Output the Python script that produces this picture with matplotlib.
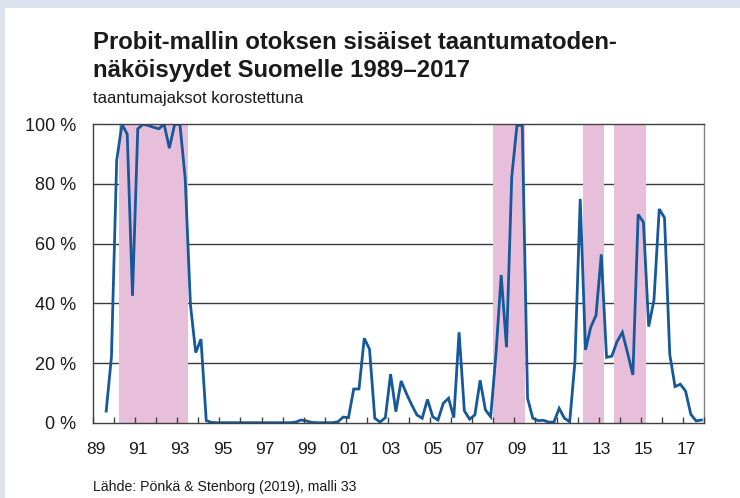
import numpy as np
import pandas as pd
import matplotlib
matplotlib.use("Agg")
import matplotlib.pyplot as plt
from matplotlib.patches import Rectangle
from matplotlib.transforms import ScaledTranslation

# ---- data ----
start_quarter = "1989Q3"
end_quarter = "2017Q4"
probability = [
    3.9, 22, 88, 100, 96.7, 42.5, 98.5, 100, 99.6, 99,
    98.5, 100, 92, 100, 100, 82, 39.5, 23.5, 28, 0.7,
    0.1, 0, 0, 0, 0, 0, 0, 0, 0, 0,
    0, 0, 0, 0, 0, 0, 0.2, 0.9, 0.6, 0.1,
    0, 0, 0, 0, 0.3, 1.9, 1.7, 11.3, 11.3, 28.3,
    24.6, 1.5, 0.2, 1.7, 16.3, 3.7, 14, 9.8, 6, 2.6,
    1.5, 7.8, 2, 0.9, 6.5, 8.2, 1.7, 30.3, 4, 1.2,
    2.6, 14.2, 4.3, 2, 23, 49.5, 25.3, 82.4, 99.8, 99.5,
    8.2, 1.5, 0.7, 0.8, 0.2, 0.2, 4.8, 1.5, 0.3, 20.5,
    75, 24.4, 32, 36, 56.4, 21.9, 22.3, 27.2, 30.3, 23.3,
    16, 69.8, 67.2, 32.2, 41.1, 71.6, 68.7, 22.9, 12.1, 12.9,
    10.6, 2.8, 0.6, 0.9,
]
recession_start = [1990.25, 2008.0, 2012.25, 2013.75]
recession_end = [1993.5, 2009.5, 2013.25, 2015.25]
tick_years = list(range(1989, 2019))
label_years = list(range(1989, 2018, 2))
y_ticks = [0, 20, 40, 60, 80, 100]

title = "Probit-mallin otoksen sisäiset taantumatoden-\nnäköisyydet Suomelle 1989–2017"
subtitle = "taantumajaksot korostettuna"
source = "Lähde: Pönkä & Stenborg (2019), malli 33"

# ---- derived x positions (quarter midpoints) ----
periods = pd.period_range(start_quarter, end_quarter, freq="Q")
xq = np.array([p.year + (p.quarter - 0.5) / 4 for p in periods])

FONT = ["Liberation Sans", "DejaVu Sans"]
plt.rcParams["font.family"] = FONT

W, H = 740, 498
fig = plt.figure(figsize=(W / 100, H / 100), dpi=100, facecolor="white")

band = "#dce3ef"
fig.patches.append(Rectangle((0, 1 - 8 / H), 1, 8 / H, transform=fig.transFigure,
                             facecolor=band, edgecolor="none", zorder=0))
fig.patches.append(Rectangle((0, 0), 5 / W, 1, transform=fig.transFigure,
                             facecolor=band, edgecolor="none", zorder=0))

left, right, top, bottom = 93, 704, 124.3, 422.7
ax = fig.add_axes([left / W, 1 - bottom / H, (right - left) / W, (bottom - top) / H])

for yv in y_ticks[1:-1]:
    ax.axhline(yv, color="#3a3a3a", lw=1.0, zorder=1)

for s, e in zip(recession_start, recession_end):
    ax.axvspan(s, e, facecolor="#e8bfda", edgecolor="none", zorder=1.5)

ax.plot(xq, probability, color="#15599a", lw=2.0, zorder=2, solid_joinstyle="miter")

ax.set_xlim(1989, 2018)
ax.set_ylim(0, 100)
ax.set_axisbelow(False)

ax.set_xticks(tick_years)
ax.set_xticklabels([f"{y % 100:02d}" if y in label_years else "" for y in tick_years])
ax.tick_params(axis="x", direction="in", length=4.5, width=1, color="#404040",
               pad=14, labelsize=12.5, labelcolor="#1a1a1a")
shift = ScaledTranslation(3 / 100, 0, fig.dpi_scale_trans)
for lab in ax.get_xticklabels():
    lab.set_transform(lab.get_transform() + shift)
ax.set_yticks(y_ticks)
ax.set_yticklabels([f"{v} %" for v in y_ticks])
ax.tick_params(axis="y", length=0, pad=12, labelsize=13, labelcolor="#1a1a1a")

for sp in ax.spines.values():
    sp.set_color("#404040")
    sp.set_linewidth(1.0)
ax.spines["right"].set_color("#808080")

fig.text(93 / W, 1 - 31 / H, title, ha="left", va="top", fontsize=17.2,
         fontweight="bold", color="#1a1a1a", linespacing=1.25)
fig.text(93 / W, 1 - 91 / H, subtitle, ha="left", va="top", fontsize=12,
         color="#1a1a1a")
fig.text(93 / W, 1 - 480 / H, source, ha="left", va="top", fontsize=10.2,
         color="#1a1a1a")

fig.savefig("out.png", dpi=100, facecolor="white")
